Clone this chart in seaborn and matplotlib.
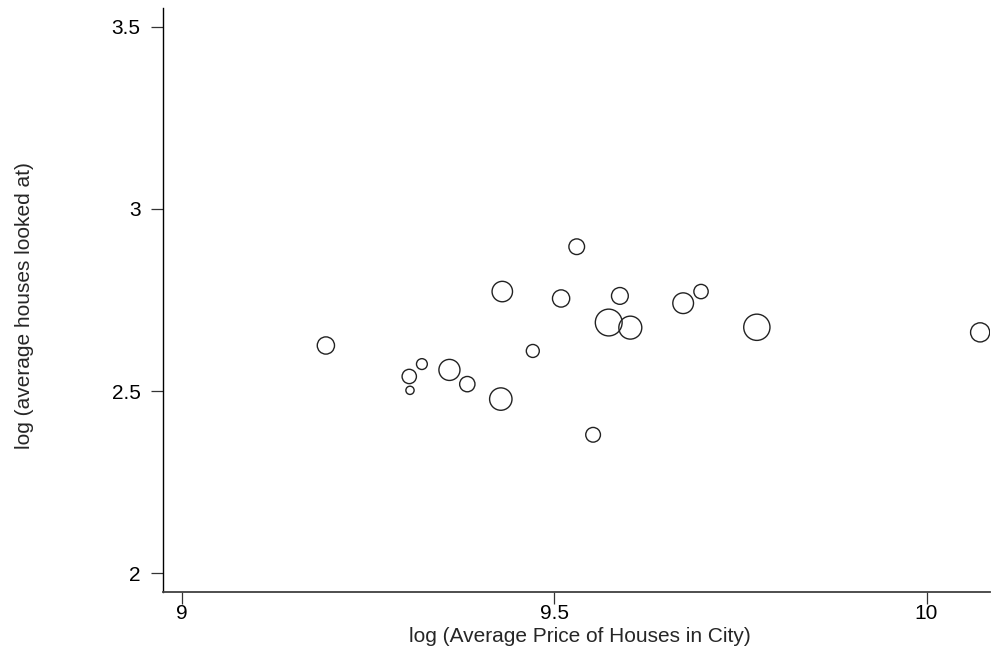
import matplotlib
matplotlib.use("Agg")
import matplotlib.pyplot as plt
import seaborn as sns
import pandas as pd

# log average house price per city, log average houses looked at, and city weight
log_price = [9.193, 9.305, 9.322, 9.306, 9.359, 9.383, 9.428, 9.430, 9.471,
             9.509, 9.530, 9.552, 9.573, 9.588, 9.602, 9.673, 9.697, 9.772, 10.072]
log_looked = [2.625, 2.540, 2.574, 2.502, 2.558, 2.519, 2.478, 2.773, 2.610,
              2.754, 2.896, 2.380, 2.688, 2.761, 2.674, 2.741, 2.773, 2.675, 2.661]
weight = [81, 56, 32, 18.5, 121, 64, 137, 114, 46,
          81, 67, 59, 196, 77, 144, 117, 56, 188, 100]

x_ticks = [9, 9.5, 10]
x_tick_labels = ["9", "9.5", "10"]
y_ticks = [2, 2.5, 3, 3.5]
y_tick_labels = ["2", "2.5", "3", "3.5"]

df = pd.DataFrame({"log_price": log_price, "log_looked": log_looked, "weight": weight})

sns.set_theme(style="white")
plt.rcParams["font.family"] = ["Liberation Sans", "DejaVu Sans"]

fig = plt.figure(figsize=(9.93, 6.56), dpi=100)
ax = fig.add_axes([0.1638, 0.0976, 0.833, 0.8902])

wmax = max(weight)
sns.scatterplot(
    data=df, x="log_price", y="log_looked", size="weight",
    sizes=(0, 1.9 * wmax), size_norm=(0, wmax),
    facecolor="none", edgecolor="#222222", linewidth=1.0,
    legend=False, ax=ax,
)

ax.set_xlim(8.9737, 10.085)
ax.set_ylim(1.9487, 3.551)
ax.set_xticks(x_ticks, x_tick_labels)
ax.set_yticks(y_ticks, y_tick_labels)

for side in ("top", "right"):
    ax.spines[side].set_visible(False)
ax.spines["left"].set_color("black")
ax.spines["bottom"].set_color("#404040")
ax.spines["left"].set_linewidth(1.0)
ax.spines["bottom"].set_linewidth(1.3)

ax.tick_params(axis="both", direction="out", length=8.5, width=0.9,
               color="#333333", labelsize=15, labelcolor="black",
               left=True, bottom=True)
ax.tick_params(axis="x", pad=0.5)
ax.tick_params(axis="y", pad=7.5)

ax.set_xlabel("log (Average Price of Houses in City)", fontsize=15)
ax.set_ylabel("log (average houses looked at)", fontsize=15)
ax.xaxis.set_label_coords(0.505, -0.060)
ax.yaxis.set_label_coords(-0.155, 0.491)

fig.savefig("out.png", dpi=100, facecolor="white")
